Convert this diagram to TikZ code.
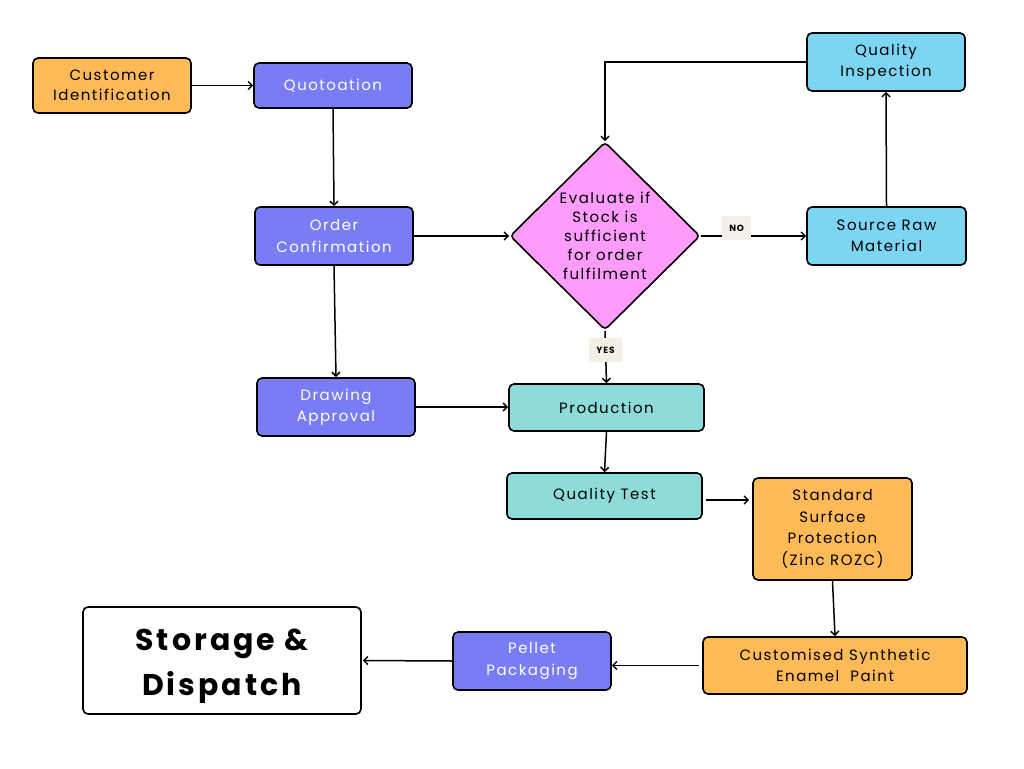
\documentclass[tikz,border=0pt]{standalone}
\usepackage{fontspec}
\setmainfont{Poppins}[LetterSpace=10]
\usetikzlibrary{shapes.geometric,arrows.meta}
\definecolor{orng}{HTML}{FDBA57}
\definecolor{purp}{HTML}{787DF5}
\definecolor{lblue}{HTML}{7DD5F4}
\definecolor{teal}{HTML}{8DDCDA}
\definecolor{pink}{HTML}{FD9CFB}
\definecolor{beige}{HTML}{F4F0E8}
\begin{document}
\begin{tikzpicture}[x=1pt,y=-1pt,
  box/.style={draw=black, line width=1.6pt, rounded corners=5pt, align=center,
    inner sep=0pt, font=\fontsize{15}{21.5}\selectfont},
  orbox/.style={box, fill=orng},
  pubox/.style={box, fill=purp, text=white},
  blbox/.style={box, fill=lblue},
  tebox/.style={box, fill=teal},
  conn/.style={-{Straight Barb[length=4pt,width=8pt]}, line width=1.5pt},
  lab/.style={fill=beige, inner xsep=7pt, inner ysep=9pt, text height=6.5pt, text depth=0pt,
    font=\bfseries\fontsize{9}{10}\selectfont, text=black}]
\useasboundingbox (0,0) rectangle (1024,768);
\fill[white] (0,0) rectangle (1024,768);

\node[orbox, minimum width=158, minimum height=55, font=\fontsize{15}{19.5}\selectfont] (cust) at (112,85.5) {Customer\\Identification};
\node[pubox, minimum width=158, minimum height=45] (quot) at (333,85.5) {Quotoation};
\node[pubox, minimum width=158, minimum height=58] (order) at (334,236) {Order\\Confirmation};
\node[pubox, minimum width=158, minimum height=58] (draw) at (336,407) {Drawing\\Approval};
\node[diamond, draw=black, fill=pink, line width=1.6pt, rounded corners=4pt, inner sep=0pt,
  minimum width=190, minimum height=188, align=center, font=\fontsize{15}{19}\selectfont]
  (diam) at (605,236) {Evaluate if\\Stock is\\sufficient\\for order\\fulfilment};
\node[blbox, minimum width=158, minimum height=58] (qinsp) at (886,62) {Quality\\Inspection};
\node[blbox, minimum width=159, minimum height=58] (src) at (886.5,236) {Source Raw\\Material};
\node[tebox, minimum width=195, minimum height=47] (prod) at (606.5,407.5) {Production};
\node[tebox, minimum width=195, minimum height=46] (qtest) at (604.5,496) {Quality Test};
\node[orbox, minimum width=159, minimum height=102] (std) at (832.5,529) {Standard\\Surface\\Protection\\(Zinc ROZC)};
\node[orbox, minimum width=264, minimum height=57] (enam) at (835,665.5) {Customised Synthetic\\Enamel~ Paint};
\node[pubox, minimum width=158, minimum height=58] (pellet) at (532,661) {Pellet\\Packaging};
\node[box, fill=white, minimum width=278, minimum height=107, font=\bfseries\fontsize{30}{45}\selectfont]
  (stor) at (222,660.5) {\rule{0pt}{32pt}Storage \&\\Dispatch};

\draw[conn] (cust.east) -- (cust.east -| quot.west);
\draw[conn] (quot.south) -- (order.north);
\draw[conn] (order.east) -- (diam.west);
\draw[conn] (order.south) -- (draw.north);
\draw[conn] (draw.east) -- (draw.east -| prod.west);
\draw[conn] (diam.east) -- node[lab, pos=0.34, yshift=8pt] {NO} (src.west);
\draw[conn] (diam.south) -- node[lab, pos=0.37] {YES} (prod.north);
\draw[conn] (src.north) -- (qinsp.south);
\draw[conn] (qinsp.west) -| (diam.north);
\draw[conn] (prod.south) -- (qtest.north);
\draw[conn, shorten <=3pt, shorten >=3pt] ([yshift=-4pt]qtest.east) -- ([yshift=-4pt]qtest.east -| std.west);
\draw[conn] (std.south) -- (enam.north);
\draw[conn, shorten <=3pt] (enam.west) -- (enam.west -| pellet.east);
\draw[conn, shorten >=1pt] (pellet.west) -- (stor.east);
\end{tikzpicture}
\end{document}
